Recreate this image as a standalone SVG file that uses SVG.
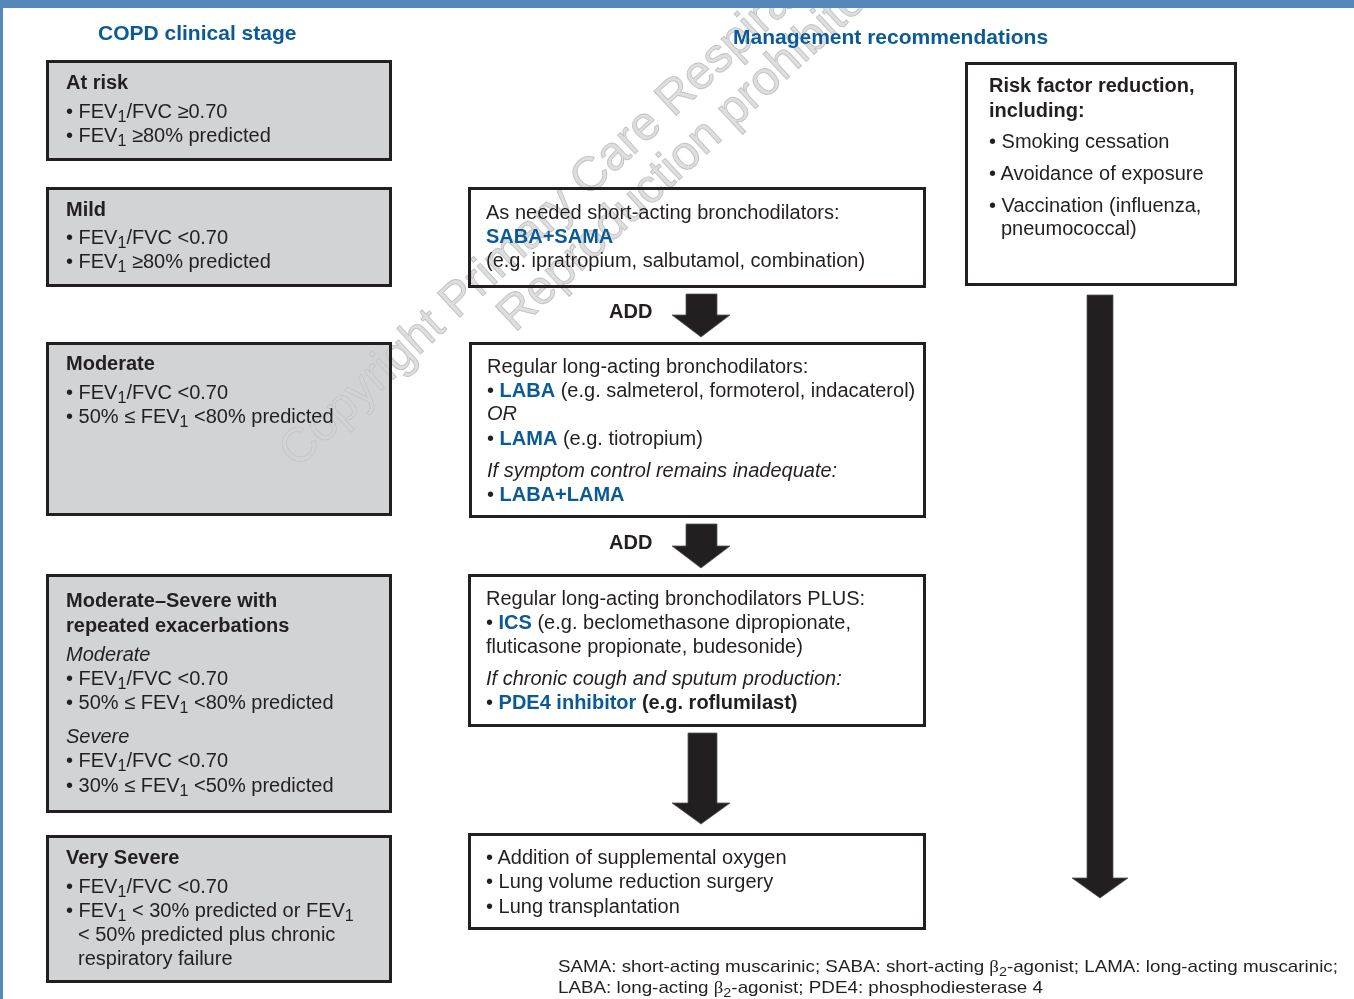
<svg xmlns="http://www.w3.org/2000/svg" width="1354" height="999" viewBox="0 0 1354 999">
<style>
.t{font-family:"Liberation Sans",Arial,sans-serif;font-size:20px;fill:#231f20}
.b{font-weight:bold}
.i{font-style:italic}
.bl{font-weight:bold;fill:#0b5a96}
.h{font-family:"Liberation Sans",Arial,sans-serif;font-size:21px;font-weight:bold;fill:#0b5a96}
.g{fill:#d1d3d4;stroke:#231f20;stroke-width:3}
.w{fill:#ffffff;stroke:#231f20;stroke-width:3}
.arr{fill:#231f20;stroke:#555;stroke-width:0.8}
.wm{font-family:"Liberation Sans",Arial,sans-serif;font-size:48px;fill:#dedede;stroke:#c2c2c2;stroke-width:0.9}
.fn{font-family:"Liberation Sans",Arial,sans-serif;font-size:17px;fill:#231f20}
.beta{font-family:"Liberation Serif","Times New Roman",serif}
#watermark{mix-blend-mode:darken}
</style>
<rect x="0" y="0" width="1354" height="999" fill="#ffffff"/>
<rect x="0" y="0" width="3" height="999" fill="#5587b8"/>

<text class="h" x="98" y="40">COPD clinical stage</text>
<text class="h" x="733" y="44">Management recommendations</text>

<g id="at-risk">
<rect class="g" x="47.5" y="61.5" width="343" height="98"/>
<text class="t b" x="66" y="89">At risk</text>
<text class="t" x="66" y="118">• FEV<tspan dy="4" font-size="16">1</tspan><tspan dy="-4">/FVC ≥0.70</tspan></text>
<text class="t" x="66" y="142">• FEV<tspan dy="4" font-size="16">1</tspan><tspan dy="-4"> ≥80% predicted</tspan></text>
</g>

<g id="mild">
<rect class="g" x="47.5" y="188.5" width="343" height="97"/>
<text class="t b" x="66" y="216">Mild</text>
<text class="t" x="66" y="244">• FEV<tspan dy="4" font-size="16">1</tspan><tspan dy="-4">/FVC &lt;0.70</tspan></text>
<text class="t" x="66" y="268">• FEV<tspan dy="4" font-size="16">1</tspan><tspan dy="-4"> ≥80% predicted</tspan></text>
</g>

<g id="moderate">
<rect class="g" x="47.5" y="343.5" width="343" height="171"/>
<text class="t b" x="66" y="370">Moderate</text>
<text class="t" x="66" y="399">• FEV<tspan dy="4" font-size="16">1</tspan><tspan dy="-4">/FVC &lt;0.70</tspan></text>
<text class="t" x="66" y="423">• 50% ≤ FEV<tspan dy="4" font-size="16">1</tspan><tspan dy="-4"> &lt;80% predicted</tspan></text>
</g>

<g id="moderate-severe">
<rect class="g" x="47.5" y="575.5" width="343" height="236"/>
<text class="t b" x="66" y="607">Moderate–Severe with</text>
<text class="t b" x="66" y="632">repeated exacerbations</text>
<text class="t i" x="66" y="661">Moderate</text>
<text class="t" x="66" y="685">• FEV<tspan dy="4" font-size="16">1</tspan><tspan dy="-4">/FVC &lt;0.70</tspan></text>
<text class="t" x="66" y="709">• 50% ≤ FEV<tspan dy="4" font-size="16">1</tspan><tspan dy="-4"> &lt;80% predicted</tspan></text>
<text class="t i" x="66" y="743">Severe</text>
<text class="t" x="66" y="767">• FEV<tspan dy="4" font-size="16">1</tspan><tspan dy="-4">/FVC &lt;0.70</tspan></text>
<text class="t" x="66" y="792">• 30% ≤ FEV<tspan dy="4" font-size="16">1</tspan><tspan dy="-4"> &lt;50% predicted</tspan></text>
</g>

<g id="very-severe">
<rect class="g" x="47.5" y="836.5" width="343" height="145"/>
<text class="t b" x="66" y="864">Very Severe</text>
<text class="t" x="66" y="893">• FEV<tspan dy="4" font-size="16">1</tspan><tspan dy="-4">/FVC &lt;0.70</tspan></text>
<text class="t" x="66" y="917">• FEV<tspan dy="4" font-size="16">1</tspan><tspan dy="-4"> &lt; 30% predicted or FEV</tspan><tspan dy="4" font-size="16">1</tspan></text>
<text class="t" x="78" y="941">&lt; 50% predicted plus chronic</text>
<text class="t" x="78" y="965">respiratory failure</text>
</g>

<g id="short-acting">
<rect class="w" x="469.5" y="188.5" width="455" height="98"/>
<text class="t" x="486" y="219">As needed short-acting bronchodilators:</text>
<text class="t bl" x="486" y="243">SABA+SAMA</text>
<text class="t" x="486" y="267">(e.g. ipratropium, salbutamol, combination)</text>
</g>

<g id="long-acting">
<rect class="w" x="470.5" y="343.5" width="454" height="173"/>
<text class="t" x="487" y="373">Regular long-acting bronchodilators:</text>
<text class="t" x="487" y="397">• <tspan class="bl">LABA</tspan> (e.g. salmeterol, formoterol, indacaterol)</text>
<text class="t i" x="487" y="420">OR</text>
<text class="t" x="487" y="445">• <tspan class="bl">LAMA</tspan> (e.g. tiotropium)</text>
<text class="t i" x="487" y="477">If symptom control remains inadequate:</text>
<text class="t" x="487" y="501">• <tspan class="bl">LABA+LAMA</tspan></text>
</g>

<g id="ics">
<rect class="w" x="469.5" y="575.5" width="455" height="150"/>
<text class="t" x="486" y="605">Regular long-acting bronchodilators PLUS:</text>
<text class="t" x="486" y="629">• <tspan class="bl">ICS</tspan> (e.g. beclomethasone dipropionate,</text>
<text class="t" x="486" y="653">fluticasone propionate, budesonide)</text>
<text class="t i" x="486" y="685">If chronic cough and sputum production:</text>
<text class="t" x="486" y="709">• <tspan class="bl">PDE4 inhibitor</tspan> <tspan class="b">(e.g. roflumilast)</tspan></text>
</g>

<g id="severe-options">
<rect class="w" x="469.5" y="834.5" width="455" height="94"/>
<text class="t" x="486" y="864">• Addition of supplemental oxygen</text>
<text class="t" x="486" y="888">• Lung volume reduction surgery</text>
<text class="t" x="486" y="913">• Lung transplantation</text>
</g>

<g id="risk-factor">
<rect class="w" x="966.5" y="63.5" width="269" height="221"/>
<text class="t b" x="989" y="92">Risk factor reduction,</text>
<text class="t b" x="989" y="117">including:</text>
<text class="t" x="989" y="148">• Smoking cessation</text>
<text class="t" x="989" y="180">• Avoidance of exposure</text>
<text class="t" x="989" y="212">• Vaccination (influenza,</text>
<text class="t" x="1001" y="235">pneumococcal)</text>
</g>

<g id="connectors">
<text class="t b" x="609" y="318">ADD</text>
<polygon class="arr" points="686,294 717,294 717,315 730,315 701,337 672,315 686,315"/>
<text class="t b" x="609" y="549">ADD</text>
<polygon class="arr" points="686,524 717,524 717,546 730,546 701,568 672,546 686,546"/>
<polygon class="arr" points="688,733 717,733 717,803 730,803 701,824 672,803 688,803"/>
<polygon class="arr" points="1087,295 1113,295 1113,878 1128,878 1100,898 1072,878 1087,878"/>
</g>

<g id="footnote">
<text class="fn" x="558" y="972" textLength="780" lengthAdjust="spacingAndGlyphs">SAMA: short-acting muscarinic; SABA: short-acting <tspan class="beta">β</tspan><tspan dy="4" font-size="13">2</tspan><tspan dy="-4">-agonist; LAMA: long-acting muscarinic;</tspan></text>
<text class="fn" x="558" y="993" textLength="485" lengthAdjust="spacingAndGlyphs">LABA: long-acting <tspan class="beta">β</tspan><tspan dy="4" font-size="13">2</tspan><tspan dy="-4">-agonist; PDE4: phosphodiesterase 4</tspan></text>
</g>

<g id="watermark">
<text class="wm" transform="translate(297,469) rotate(-43)">Copyright Primary Care Respiratory</text>
<text class="wm" transform="translate(515,333) rotate(-43)">Reproduction prohibited</text>
</g>
<rect x="0" y="0" width="1354" height="8" fill="#5587b8"/>
</svg>
